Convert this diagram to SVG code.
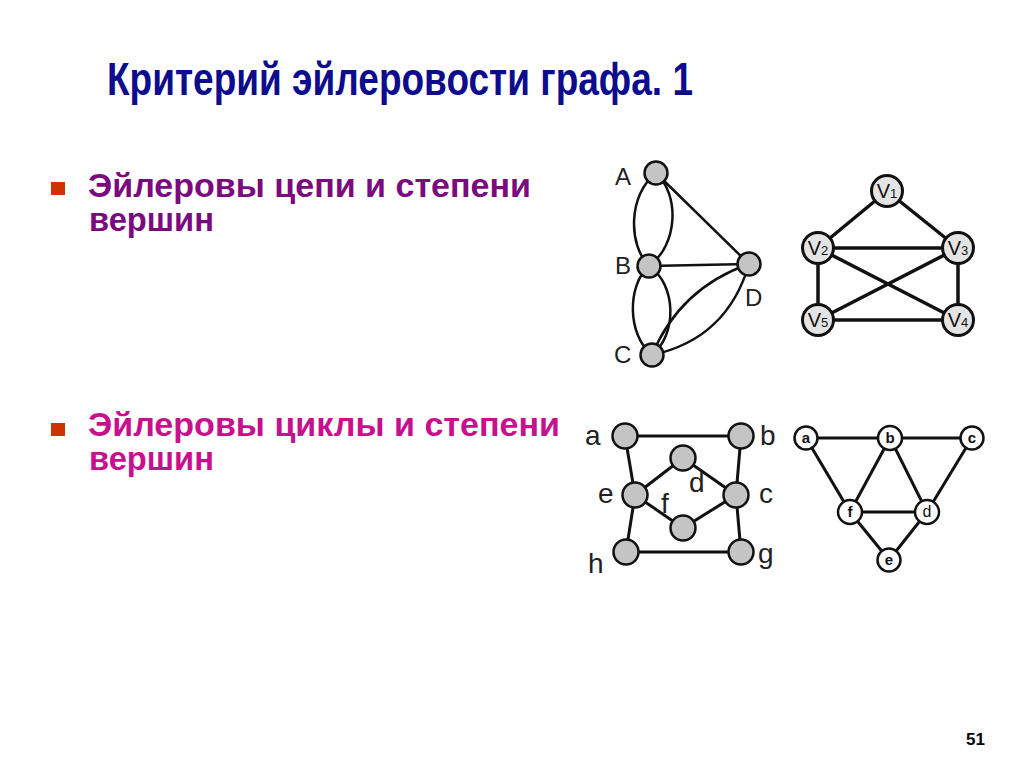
<svg xmlns="http://www.w3.org/2000/svg" width="1024" height="767" viewBox="0 0 1024 767">
<style>
.title{font-family:"Liberation Sans",Arial,sans-serif;font-weight:bold;font-size:47px;fill:#0c0c8c}
.b1{font-family:"Liberation Sans",Arial,sans-serif;font-weight:bold;font-size:33px;fill:#7a0a7e}
.b2{font-family:"Liberation Sans",Arial,sans-serif;font-weight:bold;font-size:33px;fill:#c8108f}
.sq{fill:#cc3300}
.lbl{font-family:"Liberation Sans",Arial,sans-serif;font-size:24px;fill:#222}
.lbl3{font-family:"Liberation Sans",Arial,sans-serif;font-size:28px;fill:#222}
.vl{font-family:"Liberation Sans",Arial,sans-serif;font-size:20px;fill:#111;text-anchor:middle}
.vs{font-size:13px}
.sl{font-family:"Liberation Sans",Arial,sans-serif;font-weight:bold;font-size:15px;fill:#111;text-anchor:middle}
.e{stroke:#111;fill:none;stroke-width:2.5}
.e2{stroke:#111;fill:none;stroke-width:3.5}
.e3{stroke:#111;fill:none;stroke-width:3}
.ng{fill:#c4c4c4;stroke:#111;stroke-width:2.5}
.nl{fill:#e4e4e4;stroke:#111;stroke-width:3}
.nw{fill:#fff;stroke:#111;stroke-width:2.5}
.pg{font-family:"Liberation Sans",Arial,sans-serif;font-weight:bold;font-size:17px;fill:#000}
</style>
<rect width="1024" height="767" fill="#fff"/>
<text class="title" x="107" y="95" textLength="586" lengthAdjust="spacingAndGlyphs">Критерий эйлеровости графа. 1</text>
<rect class="sq" x="51" y="182" width="14" height="13"/>
<text class="b1" x="88" y="197" textLength="443" lengthAdjust="spacingAndGlyphs">Эйлеровы цепи и степени</text>
<text class="b1" x="89" y="231" textLength="125" lengthAdjust="spacingAndGlyphs">вершин</text>
<rect class="sq" x="51" y="423" width="14" height="13"/>
<text class="b2" x="88" y="436" textLength="472" lengthAdjust="spacingAndGlyphs">Эйлеровы циклы и степени</text>
<text class="b2" x="89" y="470" textLength="125" lengthAdjust="spacingAndGlyphs">вершин</text>

<g id="connectors">
<g id="g1-edges">
<path class="e" d="M656,173 C628,195 628,245 649,266"/>
<path class="e" d="M656,173 C680,195 678,245 649,266"/>
<path class="e" d="M649,266 C627,285 627,335 652,355"/>
<path class="e" d="M649,266 C677,285 677,335 652,355"/>
<line class="e" x1="656" y1="173" x2="749" y2="264"/>
<line class="e" x1="649" y1="266" x2="749" y2="264"/>
<path class="e" d="M652,355 Q680,288 749,264"/>
<path class="e" d="M652,355 Q727,339 749,264"/>
</g>
<g id="g2-edges">
<line class="e2" x1="887" y1="191" x2="818" y2="248"/>
<line class="e2" x1="887" y1="191" x2="958" y2="248"/>
<line class="e2" x1="818" y1="248" x2="958" y2="248"/>
<line class="e2" x1="818" y1="248" x2="818" y2="320"/>
<line class="e2" x1="958" y1="248" x2="958" y2="320"/>
<line class="e2" x1="818" y1="320" x2="958" y2="320"/>
<line class="e2" x1="818" y1="248" x2="958" y2="320"/>
<line class="e2" x1="958" y1="248" x2="818" y2="320"/>
</g>
<g id="g3-edges">
<line class="e3" x1="625" y1="436" x2="741" y2="436"/>
<line class="e3" x1="625" y1="436" x2="635" y2="495"/>
<line class="e3" x1="741" y1="436" x2="736" y2="495"/>
<line class="e3" x1="635" y1="495" x2="626" y2="552"/>
<line class="e3" x1="736" y1="495" x2="741" y2="552"/>
<line class="e3" x1="626" y1="552" x2="741" y2="552"/>
<line class="e3" x1="635" y1="495" x2="683" y2="458"/>
<line class="e3" x1="683" y1="458" x2="736" y2="495"/>
<line class="e3" x1="635" y1="495" x2="683" y2="528"/>
<line class="e3" x1="683" y1="528" x2="736" y2="495"/>
</g>
<g id="g4-edges">
<line class="e3" x1="806" y1="438" x2="972" y2="438"/>
<line class="e3" x1="806" y1="438" x2="850" y2="512"/>
<line class="e3" x1="890" y1="438" x2="850" y2="512"/>
<line class="e3" x1="890" y1="438" x2="927" y2="512"/>
<line class="e3" x1="972" y1="438" x2="927" y2="512"/>
<line class="e3" x1="850" y1="512" x2="927" y2="512"/>
<line class="e3" x1="850" y1="512" x2="889" y2="560"/>
<line class="e3" x1="927" y1="512" x2="889" y2="560"/>
</g>
</g>

<g id="n-A"><circle class="ng" cx="656" cy="173" r="11.5"/><text class="lbl" x="615" y="185">A</text></g>
<g id="n-B"><circle class="ng" cx="649" cy="266" r="11.5"/><text class="lbl" x="615" y="274">B</text></g>
<g id="n-D"><circle class="ng" cx="749" cy="264" r="11.5"/><text class="lbl" x="745" y="306">D</text></g>
<g id="n-C"><circle class="ng" cx="652" cy="355" r="11.5"/><text class="lbl" x="614" y="363">C</text></g>

<g id="n-v1"><circle class="nl" cx="887" cy="191" r="15.5"/><text class="vl" x="887" y="198">V<tspan class="vs">1</tspan></text></g>
<g id="n-v2"><circle class="nl" cx="818" cy="248" r="15.5"/><text class="vl" x="818" y="255">V<tspan class="vs">2</tspan></text></g>
<g id="n-v3"><circle class="nl" cx="958" cy="248" r="15.5"/><text class="vl" x="958" y="255">V<tspan class="vs">3</tspan></text></g>
<g id="n-v5"><circle class="nl" cx="818" cy="320" r="15.5"/><text class="vl" x="818" y="327">V<tspan class="vs">5</tspan></text></g>
<g id="n-v4"><circle class="nl" cx="958" cy="320" r="15.5"/><text class="vl" x="958" y="327">V<tspan class="vs">4</tspan></text></g>

<g id="n3-a"><circle class="ng" cx="625" cy="436" r="12.5"/><text class="lbl3" x="585" y="445">a</text></g>
<g id="n3-b"><circle class="ng" cx="741" cy="436" r="12.5"/><text class="lbl3" x="760" y="445">b</text></g>
<g id="n3-d"><circle class="ng" cx="683" cy="458" r="12.5"/><text class="lbl3" x="689" y="492">d</text></g>
<g id="n3-e"><circle class="ng" cx="635" cy="495" r="12.5"/><text class="lbl3" x="598" y="503">e</text></g>
<g id="n3-c"><circle class="ng" cx="736" cy="495" r="12.5"/><text class="lbl3" x="759" y="503">c</text></g>
<g id="n3-f"><circle class="ng" cx="683" cy="528" r="12.5"/><text class="lbl3" x="661" y="513">f</text></g>
<g id="n3-h"><circle class="ng" cx="626" cy="552" r="12.5"/><text class="lbl3" x="588" y="573">h</text></g>
<g id="n3-g"><circle class="ng" cx="741" cy="552" r="12.5"/><text class="lbl3" x="758" y="563">g</text></g>

<g id="n4-a"><circle class="nw" cx="806" cy="438" r="11.5"/><text class="sl" x="806" y="443">a</text></g>
<g id="n4-b"><circle class="nw" cx="890" cy="438" r="12"/><text class="sl" x="890" y="443">b</text></g>
<g id="n4-c"><circle class="nw" cx="972" cy="438" r="11.5"/><text class="sl" x="972" y="443">c</text></g>
<g id="n4-f"><circle class="nw" cx="850" cy="512" r="12"/><text class="sl" x="850" y="517">f</text></g>
<g id="n4-d"><circle class="nw" cx="927" cy="512" r="12"/><text class="sl" x="927" y="517" style="font-weight:normal;font-size:16px">d</text></g>
<g id="n4-e"><circle class="nw" cx="889" cy="560" r="11.5"/><text class="sl" x="889" y="565">e</text></g>

<text class="pg" x="966" y="745">51</text>
</svg>
